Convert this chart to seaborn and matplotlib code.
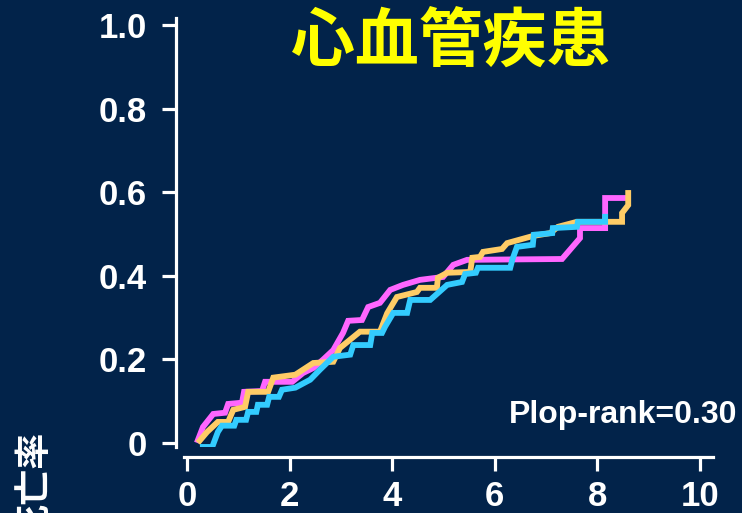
import numpy as np
import pandas as pd
import matplotlib
matplotlib.use("Agg")
import matplotlib.pyplot as plt
import seaborn as sns

# ---- data ----
mag_x = [0.19, 0.31, 0.51, 0.74, 0.80, 1.07, 1.11, 1.46, 1.52, 2.05, 2.26, 2.46, 2.65, 2.85, 3.04,
         3.14, 3.41, 3.53, 3.76, 3.96, 4.21, 4.54, 4.99, 5.19, 5.46, 7.31, 7.66, 7.66, 8.15, 8.15, 8.58]
mag_y = [0.0, 0.038, 0.069, 0.072, 0.093, 0.096, 0.122, 0.124, 0.146, 0.146, 0.167, 0.179, 0.199, 0.222, 0.263,
         0.292, 0.294, 0.325, 0.335, 0.366, 0.378, 0.39, 0.397, 0.426, 0.438, 0.44, 0.49, 0.514, 0.514, 0.586, 0.586]

org_x = [0.21, 0.39, 0.60, 0.80, 0.90, 1.13, 1.19, 1.58, 1.68, 2.11, 2.46, 2.85, 2.98, 3.37, 3.76, 3.90,
         4.09, 4.48, 4.54, 4.87, 4.89, 5.07, 5.52, 5.56, 5.71, 5.77, 6.14, 6.24, 6.74, 7.08, 7.23, 7.60,
         8.48, 8.48, 8.60, 8.60]
org_y = [0.0, 0.026, 0.05, 0.05, 0.079, 0.086, 0.122, 0.122, 0.156, 0.163, 0.191, 0.194, 0.227, 0.266, 0.266, 0.31,
         0.349, 0.361, 0.371, 0.371, 0.395, 0.407, 0.409, 0.443, 0.445, 0.457, 0.464, 0.478, 0.495, 0.502, 0.517, 0.529,
         0.529, 0.55, 0.569, 0.605]

blu_x = [0.25, 0.49, 0.60, 0.68, 0.92, 0.96, 1.15, 1.19, 1.35, 1.38, 1.56, 1.60, 1.79, 1.85, 2.11, 2.40,
         2.59, 2.85, 3.18, 3.24, 3.57, 3.61, 3.80, 3.86, 4.02, 4.29, 4.35, 4.74, 5.07, 5.36, 5.42, 5.63,
         5.67, 6.30, 6.34, 6.43, 6.74, 6.76, 7.12, 7.13, 7.60, 7.62, 8.15, 8.15]
blu_y = [-0.01, -0.01, 0.026, 0.041, 0.041, 0.055, 0.055, 0.074, 0.074, 0.091, 0.091, 0.11, 0.11, 0.127, 0.132, 0.151,
         0.175, 0.206, 0.211, 0.234, 0.234, 0.263, 0.263, 0.278, 0.311, 0.311, 0.342, 0.342, 0.378, 0.385, 0.404, 0.407,
         0.419, 0.419, 0.438, 0.469, 0.474, 0.498, 0.502, 0.514, 0.517, 0.529, 0.529, 0.548]

x_ticks = [0, 2, 4, 6, 8, 10]
y_ticks = [0, 0.2, 0.4, 0.6, 0.8, 1.0]
y_tick_labels = ["0", "0.2", "0.4", "0.6", "0.8", "1.0"]
title = "心血管疾患"
ylabel = "死亡率"
note = "Plop-rank=0.30"

BG = "#02234a"
colors = ["#ff66ff", "#ffcc66", "#33ccff"]

sns.set_theme(style="white")
plt.rcParams["font.family"] = ["Liberation Sans", "Noto Sans CJK JP", "DejaVu Sans"]

fig = plt.figure(figsize=(7.42, 5.13), dpi=100, facecolor=BG)
ax = fig.add_axes([0.248, 0.1287, 0.7127, 0.8363])
ax.set_facecolor(BG)

for xs, ys, c in [(mag_x, mag_y, colors[0]), (org_x, org_y, colors[1]), (blu_x, blu_y, colors[2])]:
    df = pd.DataFrame({"x": xs, "y": ys})
    sns.lineplot(data=df, x="x", y="y", sort=False, estimator=None, color=c,
                 linewidth=4.2, ax=ax, solid_joinstyle="miter", solid_capstyle="butt")

ax.set_xlim(-0.06, 10.25)
ax.set_ylim(-0.01, 1.017)
ax.set_xticks(x_ticks)
ax.set_xticklabels([str(v) for v in x_ticks])
ax.set_yticks(y_ticks)
ax.set_yticklabels(y_tick_labels)
ax.set_xlabel("")
ax.set_ylabel("")

for s in ["top", "right"]:
    ax.spines[s].set_visible(False)
ax.spines["left"].set_position(("outward", 6))
ax.spines["bottom"].set_position(("outward", 7))
for s in ["left", "bottom"]:
    ax.spines[s].set_color("white")
    ax.spines[s].set_linewidth(2.3)

ax.tick_params(axis="both", colors="white", direction="out", length=10, width=2.3,
               labelsize=25, bottom=True, left=True)
ax.tick_params(axis="y", pad=11)
ax.tick_params(axis="x", pad=7)
for lab in ax.get_xticklabels() + ax.get_yticklabels():
    lab.set_fontweight("bold")
    lab.set_color("white")

fig.text(451 / 742, 1 - 43 / 513, title, color="#ffff00", fontsize=46, fontweight="bold",
         ha="center", va="center", family=["Noto Sans CJK JP", "DejaVu Sans"])
fig.text(737 / 742, 1 - 415 / 513, note, color="white", fontsize=23, fontweight="bold",
         ha="right", va="center")
fig.text(36 / 742, 1 - 432 / 513, ylabel, color="white", fontsize=26, fontweight="bold",
         rotation=90, ha="center", va="top", family=["Noto Sans CJK JP", "DejaVu Sans"])

fig.savefig("out.png", dpi=100, facecolor=BG)
